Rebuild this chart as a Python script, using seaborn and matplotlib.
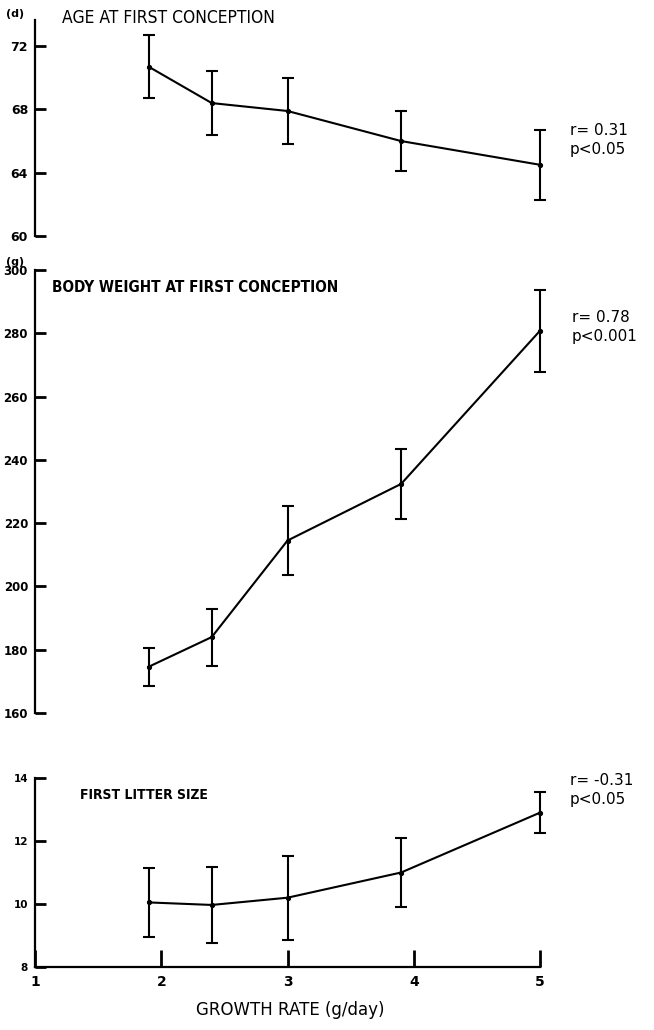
import matplotlib
matplotlib.use("Agg")
import matplotlib.pyplot as plt
import seaborn as sns
import pandas as pd

growth = [1.9, 2.4, 3.0, 3.9, 5.0]
age_mean = [70.7, 68.4, 67.9, 66.0, 64.5]
age_err = [2.0, 2.0, 2.1, 1.9, 2.2]
weight_mean = [174.6, 184.0, 214.5, 232.4, 280.8]
weight_err = [6.0, 9.0, 11.0, 11.0, 13.0]
litter_mean = [10.05, 9.97, 10.2, 11.0, 12.9]
litter_err = [1.1, 1.2, 1.33, 1.1, 0.65]

titles = ["AGE AT FIRST CONCEPTION", "BODY WEIGHT AT FIRST CONCEPTION", "FIRST LITTER SIZE"]
stats = [("r= 0.31", "p<0.05"), ("r= 0.78", "p<0.001"), ("r= -0.31", "p<0.05")]
units = ["(d)", "(g)", None]
yticks = [[60, 64, 68, 72], [160, 180, 200, 220, 240, 260, 280, 300], [8, 10, 12, 14]]
xticks = [1, 2, 3, 4, 5]
x_label = "GROWTH RATE (g/day)"

sns.set_style("white")
plt.rcParams['font.family'] = ['DejaVu Sans']

W, H = 654, 1030
fig = plt.figure(figsize=(W / 100, H / 100), dpi=100)

def frac_axes(x0, x1, ytop, ybot):
    return fig.add_axes([x0 / W, 1 - ybot / H, (x1 - x0) / W, (ybot - ytop) / H])

axes = [frac_axes(35, 540, 20, 236), frac_axes(35, 540, 270, 713), frac_axes(35, 540, 778, 967)]
ylims = [(60, 73.65), (160, 300), (8, 14)]
means = [age_mean, weight_mean, litter_mean]
errs = [age_err, weight_err, litter_err]
title_pos = [(62, 18), (52, 287), (80, 795)]
title_fs = [12.5, 11, 10]
stat_pos = [(570, 140), (572, 327), (570, 790)]
tick_fs = [9, 8.5, 7.5]

for i, ax in enumerate(axes):
    df = pd.DataFrame({"growth": growth, "value": means[i]})
    sns.lineplot(data=df, x="growth", y="value", ax=ax, color="black", lw=1.5,
                 marker="o", markersize=3, markeredgecolor="black", clip_on=False)
    ax.errorbar(growth, means[i], yerr=errs[i], fmt="none", ecolor="black",
                elinewidth=1.5, capsize=4, capthick=1.5, clip_on=False)
    ax.set_xlim(1, 5)
    ax.set_ylim(*ylims[i])
    ax.set_yticks(yticks[i])
    ax.set_xlabel("")
    ax.set_ylabel("")
    for s in ["top", "right"]:
        ax.spines[s].set_visible(False)
    ax.spines["left"].set_linewidth(1.6)
    ax.spines["left"].set_color("black")
    ax.tick_params(axis="y", left=True, direction="in", length=8, width=2, pad=5,
                   labelsize=tick_fs[i], colors="black")
    for lab in ax.get_yticklabels():
        lab.set_fontweight("bold")
    if i < 2:
        ax.spines["bottom"].set_visible(False)
        ax.set_xticks([])
    else:
        ax.spines["bottom"].set_linewidth(1.6)
        ax.spines["bottom"].set_color("black")
        ax.set_xticks(xticks)
        ax.tick_params(axis="x", bottom=True, direction="in", length=12, width=2, pad=6,
                       labelsize=10, colors="black")
        for lab in ax.get_xticklabels():
            lab.set_fontweight("bold")
    tx, ty = title_pos[i]
    fig.text(tx / W, 1 - ty / H, titles[i], fontsize=title_fs[i],
             fontweight="bold" if i else "normal", fontstretch="condensed",
             va="center", ha="left", color="black")
    sx, sy = stat_pos[i]
    fig.text(sx / W, 1 - sy / H, stats[i][0] + "\n" + stats[i][1], fontsize=11,
             va="center", ha="left", color="black", linespacing=1.3)
    if units[i]:
        uy = 14 if i == 0 else 262
        fig.text(6 / W, 1 - uy / H, units[i], fontsize=8, va="center", ha="left",
                 fontweight="bold", color="black")

fig.text(290 / W, 1 - 1010 / H, x_label, fontsize=12, ha="center", va="center", color="black")

fig.savefig("out.png", dpi=100, facecolor="white")
